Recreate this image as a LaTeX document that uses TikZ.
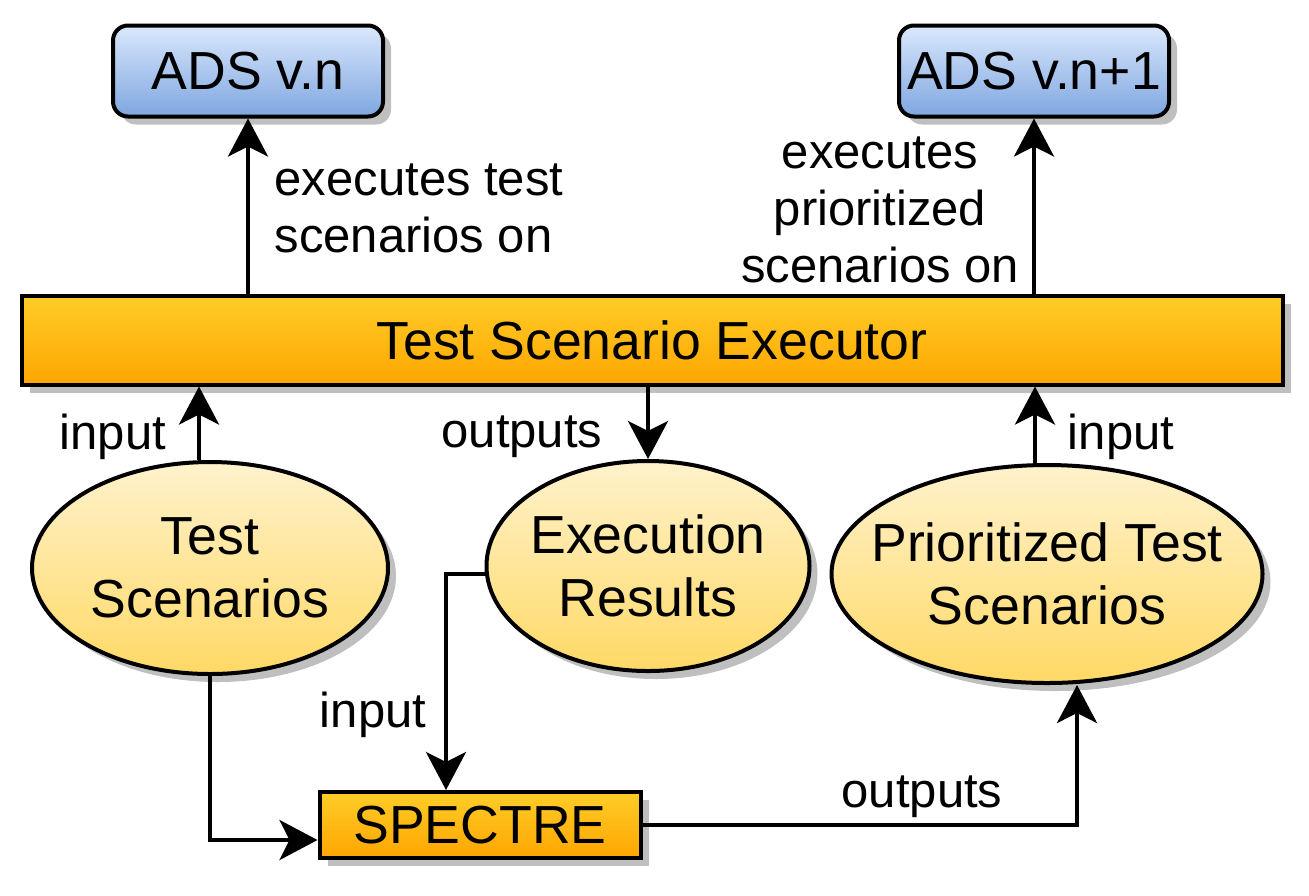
\documentclass[tikz,border=0pt]{standalone}
\usepackage{fontspec}
\setmainfont{Liberation Sans}
\usepackage{xcolor}
\usetikzlibrary{shapes.geometric,arrows.meta,shadows,positioning,calc}

\definecolor{adstop}{HTML}{DAE8FC}
\definecolor{adsbot}{HTML}{7EA6E0}
\definecolor{exectop}{HTML}{FFCD28}
\definecolor{execbot}{HTML}{FFA500}
\definecolor{datatop}{HTML}{FFF2CC}
\definecolor{databot}{HTML}{FFD966}
\newcommand\nodefont{\fontsize{26.8}{31.5}\selectfont}
\newcommand\lblfont{\fontsize{24.5}{28.5}\selectfont}

\begin{document}
\begin{tikzpicture}[x=0.5pt, y=-0.5pt, line width=2pt,
    boxshadow/.style={drop shadow={shadow xshift=4pt, shadow yshift=-4pt, fill=black!25, opacity=1}},
    ads/.style={draw, rounded corners=7.5pt, top color=adstop, bottom color=adsbot, minimum width=135pt, minimum height=45.5pt, font=\nodefont, boxshadow},
    engine/.style={draw, top color=exectop, bottom color=execbot, font=\nodefont, boxshadow},
    data/.style={ellipse, draw, inner sep=-30pt, top color=datatop, bottom color=databot, align=center, font=\nodefont, boxshadow},
    lbl/.style={font=\lblfont},
    arr/.style={-{Stealth[length=19pt, width=20pt, inset=5pt]}}]
    \useasboundingbox (0,0) rectangle (1309,895);

    % ADS versions
    \node[ads] (adsn) at (248,71) {ADS v.n};
    \node[ads] (adsn1) at (1034,71) {ADS v.n+1};

    % Executor
    \node[engine, minimum width=630.5pt, minimum height=44.5pt] (exec) at (652,340) {Test Scenario Executor};

    % Data
    \node[data, minimum width=178pt, minimum height=106pt] (tests) at (210,568) {Test\\Scenarios};
    \node[data, minimum width=161.5pt, minimum height=105pt] (results) at (648,566) {Execution\\Results};
    \node[data, minimum width=215.5pt, minimum height=109pt] (prio) at (1047,574) {Prioritized Test\\Scenarios};

    % SPECTRE
    \node[engine, minimum width=160.5pt, minimum height=33pt] (spectre) at (480,825) {SPECTRE};

    % Labels
    \node[lbl, anchor=west, align=left] (l1) at (266,208) {executes test\\scenarios on};
    \node[lbl, align=center] (l2) at (880,210) {executes\\prioritized\\scenarios on};
    \node[lbl] (l3) at (113,437) {input};
    \node[lbl] (l4) at (522,437) {outputs};
    \node[lbl] (l5) at (1121,437) {input};
    \node[lbl] (l6) at (373,715) {input};
    \node[lbl] (l7) at (922,797) {outputs};

    % Upper arrows
    \draw[arr] (exec.north -| adsn) -- (adsn.south);
    \draw[arr] (exec.north -| adsn1) -- (adsn1.south);
    \draw[arr] ([xshift=-5.5pt]tests.north) -- ([xshift=-5.5pt]tests.north |- exec.south);
    \draw[arr] (exec.south -| results) -- (results.north);
    \draw[arr] ([xshift=-6pt]prio.north) -- ([xshift=-6pt]prio.north |- exec.south);

    % Lower arrows
    \draw[arr] (tests.south) |- ([yshift=-7.5pt]spectre.west);
    \draw[arr] ([yshift=-4pt]results.west) -| ([xshift=-17pt]spectre.north);
    \draw[arr] (spectre.east) -| ([xshift=15pt]prio.south);

\end{tikzpicture}
\end{document}
